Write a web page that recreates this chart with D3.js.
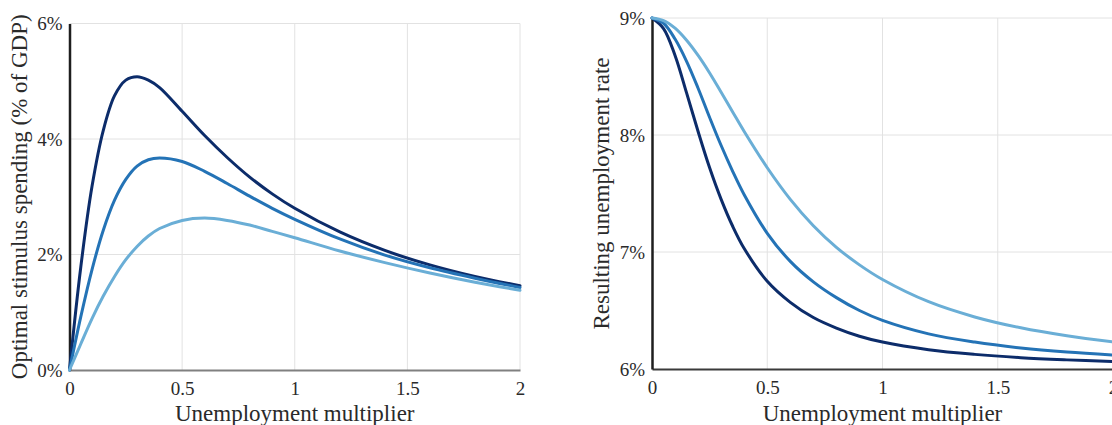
<!DOCTYPE html>
<html>
<head>
<meta charset="utf-8">
<script src="https://cdn.jsdelivr.net/npm/d3@7"></script>
<style>
  html, body { margin: 0; padding: 0; background: #fff; overflow: hidden; }
</style>
</head>
<body>
<svg id="chart" width="1112" height="425"></svg>
<script>
// Unemployment multiplier values at which each curve is sampled
const multipliers = [0, 0.05, 0.1, 0.15, 0.2, 0.25, 0.3, 0.35, 0.4, 0.5, 0.6, 0.7, 0.8, 0.9, 1.0, 1.2, 1.4, 1.6, 1.8, 2.0];

// Optimal stimulus spending (% of GDP), one series per scenario
const spendingDark   = [0, 1.78, 3.18, 4.15, 4.75, 5.02, 5.08, 5.02, 4.89, 4.48, 4.06, 3.68, 3.34, 3.05, 2.80, 2.39, 2.07, 1.82, 1.62, 1.46];
const spendingMedium = [0, 0.92, 1.74, 2.42, 2.94, 3.30, 3.53, 3.64, 3.67, 3.61, 3.44, 3.23, 3.01, 2.80, 2.61, 2.27, 1.99, 1.77, 1.59, 1.43];
const spendingLight  = [0, 0.45, 0.89, 1.28, 1.62, 1.91, 2.14, 2.32, 2.45, 2.59, 2.63, 2.59, 2.51, 2.40, 2.29, 2.06, 1.86, 1.68, 1.52, 1.38];

// Resulting unemployment rate (%), one series per scenario
const rateDark   = [9, 8.91, 8.68, 8.36, 8.03, 7.72, 7.45, 7.22, 7.03, 6.75, 6.57, 6.44, 6.35, 6.28, 6.23, 6.165, 6.125, 6.097, 6.078, 6.063];
const rateMedium = [9, 8.955, 8.82, 8.63, 8.40, 8.15, 7.91, 7.69, 7.49, 7.16, 6.92, 6.745, 6.61, 6.50, 6.415, 6.30, 6.23, 6.18, 6.145, 6.12];
const rateLight  = [9, 8.978, 8.913, 8.81, 8.68, 8.53, 8.365, 8.197, 8.03, 7.72, 7.45, 7.225, 7.04, 6.89, 6.765, 6.575, 6.445, 6.352, 6.284, 6.232];

// Axis ticks
const xTicks = [0, 0.5, 1, 1.5, 2];
const xTickLabels = ["0", "0.5", "1", "1.5", "2"];
const spendingTicks = [0, 2, 4, 6];
const spendingTickLabels = ["0%", "2%", "4%", "6%"];
const rateTicks = [6, 7, 8, 9];
const rateTickLabels = ["6%", "7%", "8%", "9%"];

const colors = ["#0c2c6a", "#2473b6", "#6aaed6"];
const textColor = "#2a2a2a";

const svg = d3.select("#chart");

// text in the chart's serif face
function serifText(sel, size) {
  return sel
    .attr("font-family", "Liberation Serif")
    .style("font-family", '"Liberation Serif"')
    .style("font-size", size + "px")
    .attr("fill", textColor);
}

function panel(opts) {
  const g = svg.append("g");
  const x = d3.scaleLinear().domain([0, 2]).range([opts.x0, opts.x1]);
  const y = d3.scaleLinear().domain(opts.yDomain).range([opts.y0, opts.y1]);

  // grid
  g.append("g")
    .selectAll("line")
    .data(xTicks.filter(d => d > 0))
    .join("line")
    .attr("x1", d => x(d)).attr("x2", d => x(d))
    .attr("y1", y(opts.yDomain[0])).attr("y2", y(opts.yDomain[1]))
    .attr("stroke", "#e2e2e2").attr("stroke-width", 1);
  g.append("g")
    .selectAll("line")
    .data(opts.yTicks.filter(d => d > opts.yDomain[0]))
    .join("line")
    .attr("x1", x(0)).attr("x2", x(2))
    .attr("y1", d => y(d)).attr("y2", d => y(d))
    .attr("stroke", "#e2e2e2").attr("stroke-width", 1);

  // x axis
  const xAxis = d3.axisBottom(x).tickValues(xTicks)
    .tickFormat((d, i) => xTickLabels[i]).tickSize(0).tickPadding(12);
  const xa = g.append("g").attr("transform", `translate(0,${y(opts.yDomain[0])})`).call(xAxis);
  xa.attr("font-family", "Liberation Serif");
  xa.select(".domain").attr("stroke", opts.baseColor).attr("stroke-width", 2);
  serifText(xa.selectAll("text"), 19);

  // y axis
  const yAxis = d3.axisLeft(y).tickValues(opts.yTicks)
    .tickFormat((d, i) => opts.yTickLabels[i]).tickSize(0).tickPadding(7);
  const ya = g.append("g").attr("transform", `translate(${x(0)},0)`).call(yAxis);
  ya.attr("font-family", "Liberation Serif");
  ya.select(".domain").attr("stroke", "#1e1e1e").attr("stroke-width", 2.5);
  serifText(ya.selectAll("text"), 19);

  // titles
  serifText(g.append("text"), 23)
    .attr("x", (opts.x0 + opts.x1) / 2).attr("y", 421)
    .attr("text-anchor", "middle")
    .text("Unemployment multiplier");
  serifText(g.append("text"), 23)
    .attr("transform", `translate(${opts.titleX},${(opts.y0 + opts.y1) / 2}) rotate(-90)`)
    .attr("text-anchor", "middle")
    .text(opts.yTitle);

  // curves
  const line = d3.line()
    .x((d, i) => x(multipliers[i]))
    .y(d => y(d))
    .curve(d3.curveCatmullRom.alpha(0.5));
  g.append("g")
    .selectAll("path")
    .data(opts.series)
    .join("path")
    .attr("d", d => line(d))
    .attr("fill", "none")
    .attr("stroke", (d, i) => colors[i])
    .attr("stroke-width", 3)
    .attr("stroke-linecap", "round");
}

panel({
  x0: 69.5, x1: 520, y0: 370, y1: 23.5,
  yDomain: [0, 6], yTicks: spendingTicks, yTickLabels: spendingTickLabels,
  baseColor: "#808080", titleX: 27,
  yTitle: "Optimal stimulus spending (% of GDP)",
  series: [spendingDark, spendingMedium, spendingLight]
});

panel({
  x0: 652, x1: 1113, y0: 369, y1: 18,
  yDomain: [6, 9], yTicks: rateTicks, yTickLabels: rateTickLabels,
  baseColor: "#3a3a3a", titleX: 609,
  yTitle: "Resulting unemployment rate",
  series: [rateDark, rateMedium, rateLight]
});
</script>
</body>
</html>
